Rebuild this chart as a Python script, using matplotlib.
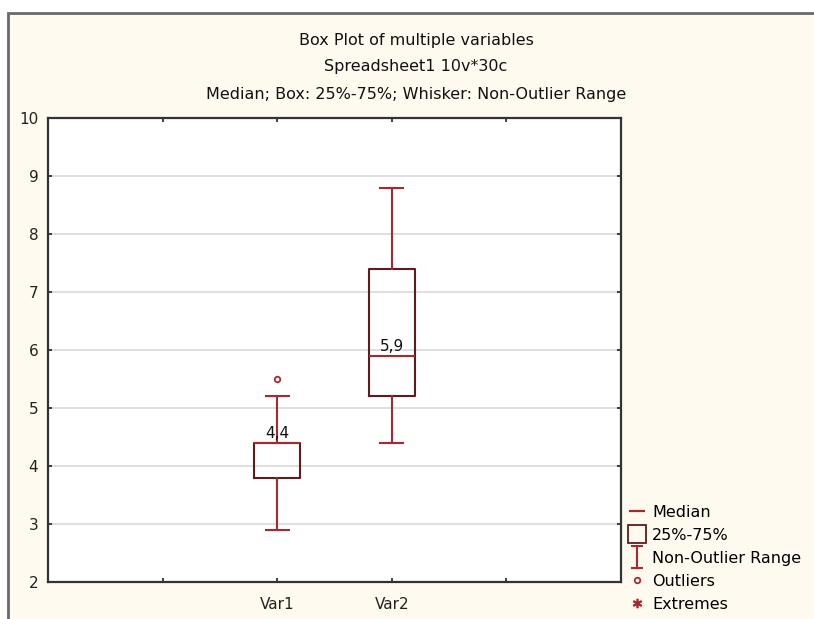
import matplotlib
matplotlib.use("Agg")
import matplotlib.pyplot as plt
from matplotlib.patches import Rectangle
from matplotlib.lines import Line2D
from matplotlib.path import Path

plt.rcParams['font.family'] = ['DejaVu Sans']

categories = ['Var1', 'Var2']
positions = [2, 3]
medians = [4.4, 5.9]
q1 = [3.8, 5.2]
q3 = [4.4, 7.4]
whislo = [2.9, 4.4]
whishi = [5.2, 8.8]
outliers = [[5.5], []]
median_labels = ['4,4', '5,9']

titles = ['Box Plot of multiple variables',
          'Spreadsheet1 10v*30c',
          'Median; Box: 25%-75%; Whisker: Non-Outlier Range']
legend_labels = ['Median', '25%-75%', 'Non-Outlier Range', 'Outliers', 'Extremes']

W, H = 814, 619
fig = plt.figure(figsize=(W / 100, H / 100), dpi=100, facecolor='white')
cream = '#fffaf0'
fig.patches.append(Rectangle((8 / W, -0.1), 1.2, (H - 13) / H + 0.1,
                             transform=fig.transFigure, facecolor=cream,
                             edgecolor='#6a6a6a', lw=2, zorder=-10))

ax = fig.add_axes([48 / W, 1 - 582 / H, (621 - 48) / W, (582 - 118) / H])
ax.set_zorder(1)
ax.set_facecolor('white')

red = '#a8282f'
dark = '#5e1c1c'
stats = []
for i in range(len(categories)):
    stats.append(dict(med=medians[i], q1=q1[i], q3=q3[i],
                      whislo=whislo[i], whishi=whishi[i],
                      fliers=outliers[i], label=categories[i]))
ax.bxp(stats, positions=positions, widths=0.4, capwidths=0.2,
       boxprops=dict(color=dark, lw=1.5),
       whiskerprops=dict(color=red, lw=1.5),
       capprops=dict(color=red, lw=1.5),
       medianprops=dict(color=red, lw=1.5),
       flierprops=dict(marker='o', markersize=4, markerfacecolor='white',
                       markeredgecolor=red, markeredgewidth=1.3),
       zorder=3)
for p, m, lab in zip(positions, medians, median_labels):
    ax.text(p, m + 0.03, lab, ha='center', va='bottom', fontsize=11,
            color='#111111', zorder=4)

ax.set_xlim(0, 5)
ax.set_ylim(2, 10)
ax.set_yticks(range(2, 11))
ax.set_xticks([1, 2, 3, 4])
ax.set_xticklabels(['', categories[0], categories[1], ''])
ax.grid(axis='y', color='#d9d9d9', lw=1.2, zorder=0)
ax.set_axisbelow(True)
ax.tick_params(direction='in', length=3, width=1.2, top=True, right=True,
               labelsize=11, colors='#222222')
ax.tick_params(axis='y', pad=7)
ax.tick_params(axis='x', pad=11)
for s in ax.spines.values():
    s.set_color('#333333')
    s.set_linewidth(1.6)

for t, y in zip(titles, [40, 67, 94]):
    fig.text(416 / W, 1 - y / H, t, ha='center', va='center', fontsize=11.5,
             color='#111111')

# legend
ibeam = Path([(-0.5, 1), (0.5, 1), (0, 1), (0, -1), (-0.5, -1), (0.5, -1)],
             [Path.MOVETO, Path.LINETO, Path.MOVETO, Path.LINETO,
              Path.MOVETO, Path.LINETO])
handles = [
    Line2D([], [], ls='none', marker='_', markersize=12, markeredgewidth=1.6, color=red),
    Line2D([], [], ls='none', marker='s', markersize=13, markerfacecolor='none',
           markeredgecolor=dark, markeredgewidth=1.3),
    Line2D([], [], ls='none', marker=ibeam, markersize=16, markeredgewidth=1.5,
           color=red, markerfacecolor='none'),
    Line2D([], [], ls='none', marker='o', markersize=4, markerfacecolor='white',
           markeredgecolor=red, markeredgewidth=1.3),
    Line2D([], [], ls='none', marker='$*$', markersize=6, color=red),
]
leg = fig.legend(handles, legend_labels, loc='upper left',
                 bbox_to_anchor=(629 / W, 1 - 505 / H), frameon=False,
                 fontsize=11.5, handlelength=1.0, handletextpad=0.45,
                 labelspacing=0.5, borderaxespad=0, borderpad=0)
leg.set_zorder(5)

fig.savefig('out.png', dpi=100, facecolor=fig.get_facecolor())
